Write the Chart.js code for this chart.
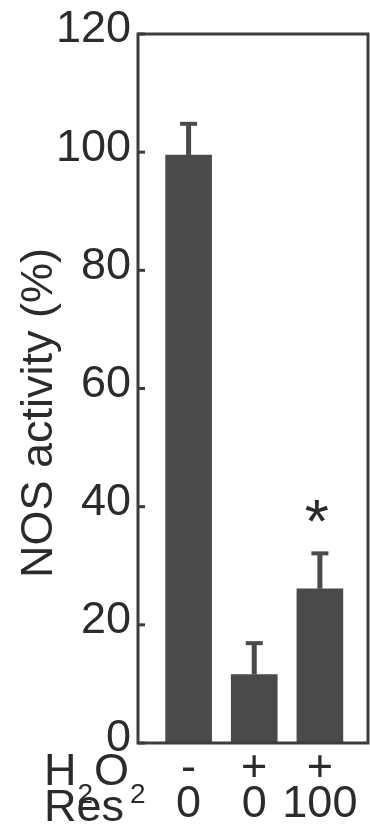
<!DOCTYPE html>
<html>
<head>
<meta charset="utf-8">
<script src="https://cdn.jsdelivr.net/npm/chart.js@4"></script>
<style>
  html, body { margin: 0; padding: 0; background: #fff; }
  #wrap { width: 370px; height: 827px; }
</style>
</head>
<body>
<div id="wrap"><canvas id="myChart"></canvas></div>
<script>
  const positions = [1, 2, 3];
  const h2o2Row = ['-', '+', '+'];
  const resRow = ['0', '0', '100'];
  const activity = [99.5, 11.6, 26.1];
  const errors = [5.3, 5.3, 6.0];
  const marks = ['', '', '*'];
  const yTicks = [0, 20, 40, 60, 80, 100, 120];

  const ink = '#2b2b2b';
  const barColor = '#4a4a4a';
  const font = '"Liberation Sans", Arial, Helvetica, sans-serif';

  // frame, inward ticks, error bars, star, row labels, y title
  const extras = {
    id: 'extras',
    afterDatasetsDraw(chart) {
      const ctx = chart.ctx;
      const area = chart.chartArea;
      const y = chart.scales.y;
      const meta = chart.getDatasetMeta(0);
      ctx.save();

      // error bars (upward only)
      ctx.fillStyle = barColor;
      meta.data.forEach((bar, i) => {
        const top = y.getPixelForValue(activity[i] + errors[i]);
        ctx.fillRect(bar.x - 2.5, top, 5, bar.y - top);
        ctx.fillRect(bar.x - 8.5, top - 2, 17, 4);
      });

      // significance marks
      ctx.fillStyle = ink;
      ctx.font = '62px ' + font;
      ctx.textAlign = 'center';
      ctx.textBaseline = 'alphabetic';
      meta.data.forEach((bar, i) => {
        if (!marks[i]) return;
        const top = y.getPixelForValue(activity[i] + errors[i]);
        ctx.fillText(marks[i], bar.x - 3, top - 11);
      });

      // frame
      ctx.strokeStyle = '#3c3c3c';
      ctx.lineWidth = 3;
      ctx.strokeRect(area.left, area.top, area.right - area.left, area.bottom - area.top);

      // inward ticks on the left
      yTicks.forEach(v => {
        const py = y.getPixelForValue(v);
        ctx.beginPath();
        ctx.moveTo(area.left, py);
        ctx.lineTo(area.left + 7, py);
        ctx.stroke();
      });

      // row labels
      ctx.fillStyle = ink;
      ctx.textAlign = 'left';
      ctx.textBaseline = 'alphabetic';
      let x = 44;
      const parts = [['H', 45, 0], ['2', 28, 18], ['O', 45, 0], ['2', 28, 18]];
      parts.forEach(p => {
        ctx.font = p[1] + 'px ' + font;
        ctx.fillText(p[0], x, 785 + p[2]);
        x += ctx.measureText(p[0]).width + 1;
      });
      ctx.font = '45px ' + font;
      ctx.fillText('Res', 44, 821);

      // y axis title
      ctx.translate(52, 413);
      ctx.rotate(-Math.PI / 2);
      ctx.textAlign = 'center';
      ctx.font = '45px ' + font;
      ctx.fillText('NOS activity (%)', 0, 0);

      ctx.restore();
    }
  };

  const data = {
    datasets: [{
      data: positions.map((p, i) => ({ x: p, y: activity[i] })),
      backgroundColor: barColor,
      borderWidth: 0,
      barThickness: 46
    }]
  };

  const config = {
    type: 'bar',
    data: data,
    options: {
      responsive: true,
      maintainAspectRatio: false,
      animation: false,
      layout: { padding: { top: 24, right: 2, left: 0, bottom: 0 } },
      plugins: { legend: { display: false }, tooltip: { enabled: false } },
      scales: {
        x: {
          type: 'linear',
          offset: false,
          min: 0.229,
          max: 3.733,
          grid: { display: false, drawTicks: false, offset: false },
          border: { display: false },
          afterBuildTicks: s => { s.ticks = positions.map(p => ({ value: p })); },
          afterFit: s => { s.height = 84; },
          ticks: {
            color: ink,
            padding: 8,
            maxRotation: 0,
            autoSkip: false,
            font: { family: font, size: 45, lineHeight: 0.8 },
            callback: (v, i) => [h2o2Row[i], resRow[i]]
          }
        },
        y: {
          min: 0,
          max: 120,
          grid: { display: false, drawTicks: false },
          border: { display: false },
          afterBuildTicks: s => { s.ticks = yTicks.map(v => ({ value: v })); },
          afterFit: s => { s.width = 138; },
          ticks: {
            color: ink,
            padding: 7,
            labelOffset: -4,
            font: { family: font, size: 45 }
          }
        }
      }
    },
    plugins: [extras]
  };

  const myChart = new Chart(document.getElementById('myChart'), config);
</script>
</body>
</html>
